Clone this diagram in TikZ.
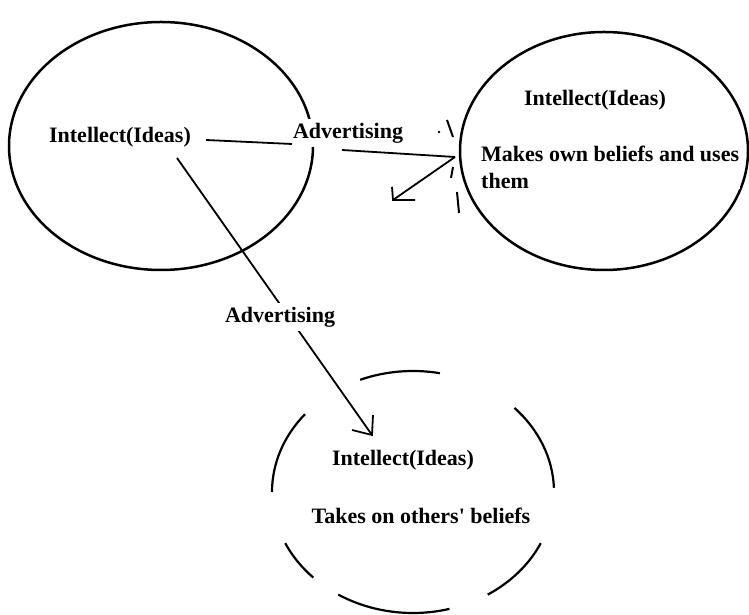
\documentclass[tikz,border=0pt]{standalone}
\usepackage{fontspec}
\setmainfont{Liberation Serif}
\usetikzlibrary{calc}
\begin{document}
\begin{tikzpicture}[x=1pt,y=1pt,
  txt/.style={font=\bfseries\fontsize{22}{27}\selectfont, inner sep=1pt},
  oval/.style={draw=black, line width=2.5pt},
  conn/.style={draw=black, line width=1.8pt},
  sparkline/.style={draw=black, line width=2pt}]
\useasboundingbox (0,0) rectangle (749,615);
\fill[white] (0,0) rectangle (749,615);

% left ellipse
\draw[oval] (161,469) ellipse [x radius=152, y radius=124];
\node[txt] (li) at (120,478) {Intellect(Ideas)};

% right ellipse
\draw[oval] (604,464) ellipse [x radius=144, y radius=119];
\node[txt] (ri) at (595,515) {Intellect(Ideas)};
\node[txt, fill=white, anchor=west, align=left] (rb) at (480,448) {Makes own beliefs and uses\\them};

% bottom dashed ellipse (hand-drawn dashes)
\coordinate (bc) at (413,123);
\foreach \a/\b in {79/112, 140/180, 2/44, 205/225, 238/285, 302/335}{
  \draw[oval, line width=2.2pt] ($(bc)+({141*cos(\a)},{121*sin(\a)})$) arc [start angle=\a, end angle=\b, x radius=141, y radius=121];
}
\node[txt] (bi) at (403,155) {Intellect(Ideas)};
\node[txt] (bb) at (421,99) {Takes on others\textquotesingle\ beliefs};

% connector 1 (broken under its label)
\node[txt, fill=white, inner sep=4pt] (adv1) at (348,482) {Advertising};
\coordinate (spark) at (455,458);
\coordinate (tip1) at (393,415);
\coordinate (g1) at (292,471);
\coordinate (g2) at (342,465);
\draw[conn] ([xshift=14pt,yshift=-3pt]li.east) -- (g1);
\draw[conn] (g2) -- (spark);
\draw[conn] (spark) -- (tip1);
\draw[conn] (392,428) -- (tip1) -- (415,415);

% spark marks
\fill (439,483) circle (1.4);
\draw[sparkline] (447,495) -- (453,478);
\draw[sparkline] (453,448) -- (451,437);
\draw[sparkline] (457,423) -- (459,402);

% connector 2
\coordinate (s2) at (177,457);
\coordinate (tip2) at (372,180);
\draw[conn] (s2) -- (tip2);
\node[txt, fill=white, inner sep=4pt] (adv2) at (280,298) {Advertising};
\draw[conn] (373,200) -- (tip2) -- (352,185);
\end{tikzpicture}
\end{document}
